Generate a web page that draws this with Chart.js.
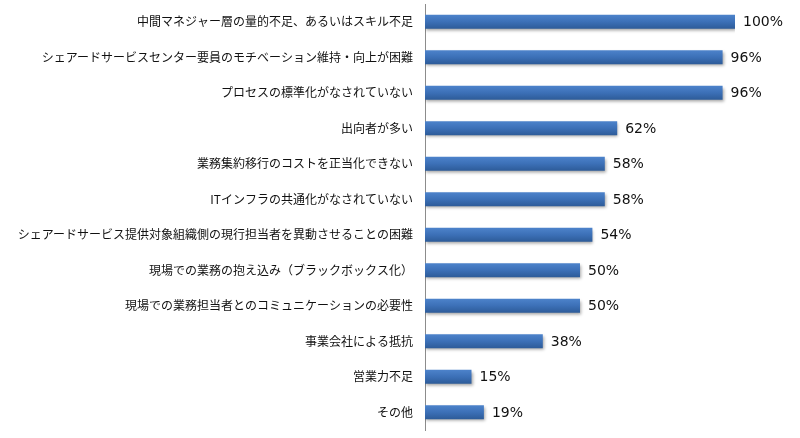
<!DOCTYPE html>
<html>
<head>
<meta charset="utf-8">
<script src="https://cdn.jsdelivr.net/npm/chart.js@4"></script>
<style>
  html, body { margin: 0; padding: 0; background: #fff; }
  #wrap { width: 800px; height: 438px; }
</style>
</head>
<body>
<div id="wrap"><canvas id="myChart"></canvas></div>
<script>
// categories, top to bottom
var categorias = [
    '中間マネジャー層の量的不足、あるいはスキル不足',
    'シェアードサービスセンター要員のモチベーション維持・向上が困難',
    'プロセスの標準化がなされていない',
    '出向者が多い',
    '業務集約移行のコストを正当化できない',
    'ITインフラの共通化がなされていない',
    'シェアードサービス提供対象組織側の現行担当者を異動させることの困難',
    '現場での業務の抱え込み（ブラックボックス化）',
    '現場での業務担当者とのコミュニケーションの必要性',
    '事業会社による抵抗',
    '営業力不足',
    'その他'
];
var porcentajes = [100, 96, 96, 62, 58, 58, 54, 50, 50, 38, 15, 19];

// gradient + shadow on the bars, labels at the end
var barStyle = {
    id: 'barStyle',
    beforeDatasetsDraw: function(chart) {
        var ctx = chart.ctx;
        chart.getDatasetMeta(0).data.forEach(function(bar) {
            var g = ctx.createLinearGradient(0, bar.y - bar.height / 2, 0, bar.y + bar.height / 2);
            g.addColorStop(0, '#4d83cb');
            g.addColorStop(0.5, '#3c70b7');
            g.addColorStop(1, '#2d5b98');
            bar.options.backgroundColor = g;
        });
        ctx.save();
        ctx.shadowColor = 'rgba(0,0,0,0.35)';
        ctx.shadowBlur = 3;
        ctx.shadowOffsetX = 1;
        ctx.shadowOffsetY = 2;
    },
    afterDatasetsDraw: function(chart) {
        var ctx = chart.ctx;
        ctx.restore();
        ctx.save();
        ctx.font = '14px "DejaVu Sans", Verdana, sans-serif';
        ctx.fillStyle = '#111';
        ctx.textBaseline = 'middle';
        chart.getDatasetMeta(0).data.forEach(function(bar, i) {
            ctx.fillText(porcentajes[i] + '%', bar.x + 8, bar.y + 1);
        });
        ctx.restore();
    }
};

var ctx = document.getElementById('myChart').getContext('2d');
var myChart = new Chart(ctx, {
    type: 'bar',
    data: {
        labels: categorias,
        datasets: [{
            data: porcentajes,
            // scriptable so every bar gets its own options object
            backgroundColor: function() { return '#3c70b7'; },
            borderWidth: 0,
            categoryPercentage: 1,
            barPercentage: 0.4
        }]
    },
    plugins: [barStyle],
    options: {
        indexAxis: 'y',
        responsive: true,
        maintainAspectRatio: false,
        animation: false,
        layout: { padding: { top: 4, bottom: 8, left: 0, right: 65 } },
        plugins: {
            legend: { display: false },
            tooltip: { enabled: false }
        },
        scales: {
            x: {
                display: false,
                min: 0,
                max: 100
            },
            y: {
                afterFit: function(scale) {
                    scale.width = 425;
                    scale.paddingTop = 0;
                    scale.paddingBottom = 0;
                },
                grid: { display: false, drawTicks: false },
                border: { display: true, color: '#8c8c8c', width: 1 },
                ticks: {
                    padding: 12,
                    color: '#111',
                    font: { family: '"Noto Sans CJK JP", sans-serif', size: 12 }
                }
            }
        }
    }
});
</script>
</body>
</html>
